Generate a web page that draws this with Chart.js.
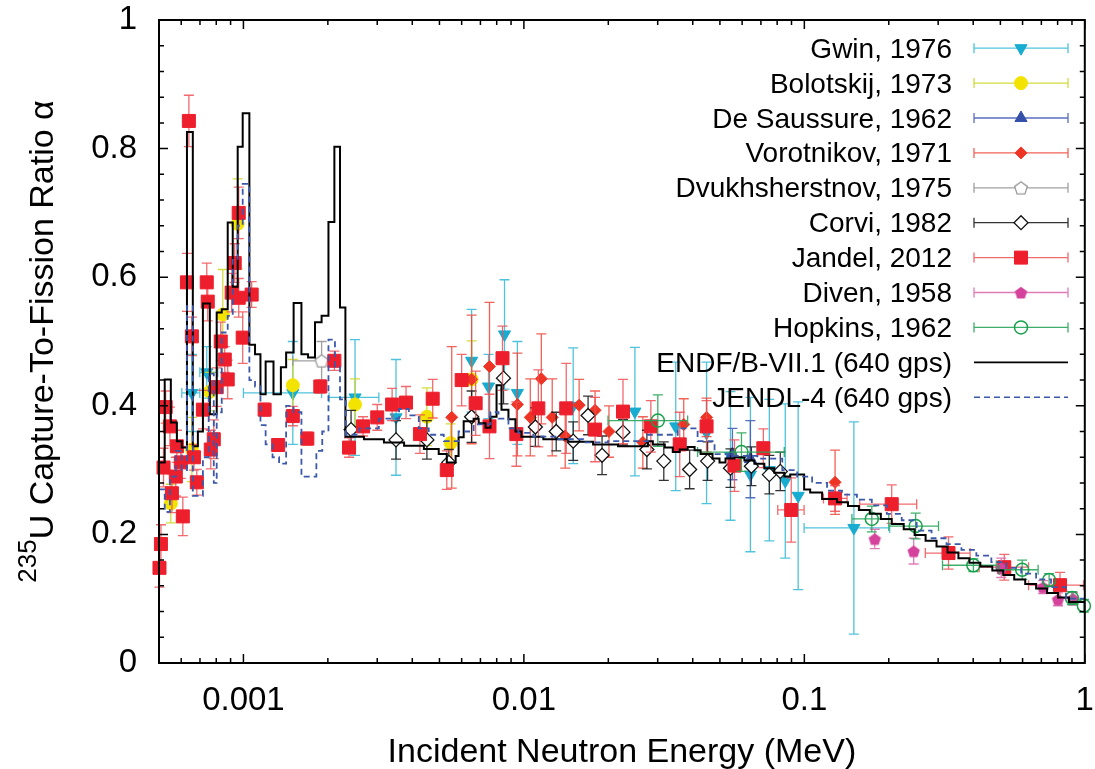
<!DOCTYPE html>
<html>
<head>
<meta charset="utf-8">
<script src="https://cdn.jsdelivr.net/npm/chart.js@4.4.1/dist/chart.umd.min.js"></script>
<style>
  html, body { margin: 0; padding: 0; background: #fff; }
  #wrap { width: 1095px; height: 769px; }
</style>
</head>
<body>
<div id="wrap"><canvas id="c" width="1095" height="769"></canvas></div>
<script>
const FONT = '"Liberation Sans", Arial, Helvetica, sans-serif';

// axes
const xTickVals = [0.001, 0.01, 0.1, 1];
const xTickLabels = ["0.001", "0.01", "0.1", "1"];
const yTickVals = [0, 0.2, 0.4, 0.6, 0.8, 1];
const yTickLabels = ["0", "0.2", "0.4", "0.6", "0.8", "1"];

// Gwin, 1976
const gwinE = [0.000655, 0.00074, 0.0015, 0.0025, 0.0035, 0.00651, 0.00748, 0.00853, 0.00948, 0.01499, 0.02488, 0.03479, 0.04481, 0.05453, 0.06422, 0.07502, 0.08551, 0.09506, 0.1502];
const gwinA = [0.42, 0.452, 0.42, 0.413, 0.382, 0.47, 0.43, 0.511, 0.42, 0.40, 0.391, 0.368, 0.358, 0.322, 0.293, 0.30, 0.283, 0.26, 0.21];
const gwinErr = [0.06, 0.04, 0.08, 0.09, 0.09, 0.08, 0.05, 0.085, 0.08, 0.09, 0.1, 0.1, 0.11, 0.1, 0.12, 0.11, 0.12, 0.146, 0.165];
const gwinELo = [0.000603, 0.000699, 0.001, 0.00202, null, null, null, null, null, null, null, null, null, null, null, null, null, null, 0.0998];
const gwinEHi = [0.000699, 0.00081, 0.0019, 0.00304, null, null, null, null, null, null, null, null, null, null, null, null, null, null, 0.2016];

// Bolotskij, 1973
const bolE = [0.000551, 0.000655, 0.000759, 0.000844, 0.000954, 0.0015, 0.0025, 0.00451, 0.00548, 0.00651];
const bolA = [0.248, 0.332, 0.422, 0.542, 0.683, 0.432, 0.402, 0.383, 0.342, 0.441];
const bolErr = [0.03, 0.05, 0.03, 0.07, 0.07, 0.04, 0.04, 0.045, 0.03, 0.06];

// De Saussure, 1962
const desE = [0.05541, 0.06422];
const desA = [0.325, 0.317];
const desErr = [0.04, 0.06];

// Vorotnikov, 1971
const vorE = [0.00553, 0.00651, 0.00754, 0.00948, 0.01054, 0.01154, 0.01262, 0.01404, 0.01574, 0.01794, 0.02011, 0.02656, 0.03715, 0.04481, 0.1287];
const vorA = [0.382, 0.441, 0.461, 0.402, 0.382, 0.442, 0.382, 0.353, 0.401, 0.393, 0.36, 0.343, 0.371, 0.382, 0.281];
const vorErr = [0.11, 0.1, 0.1, 0.08, 0.06, 0.07, 0.06, 0.05, 0.04, 0.03, 0.04, 0.04, 0.04, 0.03, 0.05];

// Dvukhsherstnov, 1975
const dvuE = [0.0019];
const dvuA = [0.47];
const dvuErr = [0.03];
const dvuELo = [0.0015];
const dvuEHi = [0.00214];

// Corvi, 1982
const corE = [0.00242, 0.0035, 0.00451, 0.0054, 0.00651, 0.00846, 0.01099, 0.01304, 0.01499, 0.01694, 0.019, 0.02256, 0.02745, 0.03154, 0.03899, 0.04519, 0.05453, 0.06475, 0.07502, 0.08208];
const corA = [0.363, 0.347, 0.347, 0.312, 0.383, 0.443, 0.367, 0.36, 0.345, 0.385, 0.323, 0.359, 0.332, 0.314, 0.301, 0.314, 0.303, 0.306, 0.293, 0.298];
const corErr = [0.03, 0.03, 0.03, 0.02, 0.04, 0.04, 0.03, 0.03, 0.03, 0.03, 0.03, 0.02, 0.03, 0.03, 0.03, 0.03, 0.03, 0.03, 0.03, 0.03];

// Jandel, 2012
const janE = [0.000502, 0.000508, 0.000519, 0.000528, 0.000547, 0.000556, 0.000574, 0.000579, 0.000598, 0.000608,
  0.000629, 0.000639, 0.000655, 0.000666, 0.000682, 0.000717, 0.00074, 0.000746, 0.000765, 0.000784,
  0.000803, 0.00083, 0.000858, 0.000879, 0.000908, 0.000931, 0.000962, 0.000962, 0.000994, 0.00107,
  0.00119, 0.00133, 0.0015, 0.00169, 0.00188, 0.00211, 0.00238, 0.00267, 0.003, 0.00339,
  0.0038, 0.00426, 0.00473, 0.00531, 0.006, 0.00673, 0.00754, 0.00839, 0.0094, 0.01126,
  0.01416, 0.01794, 0.02256, 0.02836, 0.03595, 0.04481, 0.05634, 0.07142, 0.08979, 0.1287,
  0.2049, 0.3266, 0.5162, 0.816];
const janA = [0.148, 0.185, 0.304, 0.398, 0.368, 0.264, 0.29, 0.337, 0.312, 0.228,
  0.592, 0.843, 0.508, 0.32, 0.281, 0.394, 0.592, 0.562, 0.332, 0.348,
  0.429, 0.5, 0.472, 0.441, 0.576, 0.622, 0.70, 0.568, 0.506, 0.573,
  0.394, 0.339, 0.384, 0.349, 0.43, 0.47, 0.335, 0.368, 0.382, 0.402,
  0.405, 0.356, 0.411, 0.30, 0.44, 0.404, 0.368, 0.474, 0.356, 0.396,
  0.396, 0.363, 0.391, 0.368, 0.34, 0.368, 0.307, 0.334, 0.238, 0.256,
  0.247, 0.171, 0.149, 0.121];
const janErr = [0.03, 0.03, 0.03, 0.025, 0.03, 0.03, 0.03, 0.025, 0.025, 0.03,
  0.045, 0.04, 0.03, 0.02, 0.02, 0.03, 0.03, 0.03, 0.03, 0.03,
  0.03, 0.03, 0.02, 0.03, 0.03, 0.03, 0.04, 0.03, 0.04, 0.02,
  0.01, 0.01, 0.015, 0.01, 0.01, 0.015, 0.015, 0.015, 0.02, 0.025,
  0.025, 0.03, 0.03, 0.03, 0.04, 0.05, 0.05, 0.05, 0.05, 0.06,
  0.07, 0.05, 0.05, 0.04, 0.05, 0.04, 0.04, 0.03, 0.05, 0.02,
  0.03, 0.025, 0.02, 0.02];
const janELo = Array(58).fill(null).concat([0.0804, 0.117, 0.1576, 0.27, 0.42, 0.63]);
const janEHi = Array(58).fill(null).concat([0.0998, 0.142, 0.2515, 0.39, 0.63, 0.99]);

// Diven, 1958
const divE = [0.1783, 0.2454, 0.5037, 0.7102, 0.8028, 0.9076];
const divA = [0.193, 0.174, 0.148, 0.118, 0.099, 0.10];
const divErr = [0.015, 0.02, 0.015, 0.01, 0.01, 0.01];

// Hopkins, 1962
const hopE = [0.03003, 0.05968, 0.174, 0.2494, 0.4006, 0.5981, 0.746, 0.9001, 0.9927];
const hopA = [0.377, 0.328, 0.224, 0.213, 0.152, 0.145, 0.129, 0.101, 0.089];
const hopErr = [0.04, 0.03, 0.02, 0.02, 0.01, 0.015, 0.01, 0.01, 0.01];
const hopELo = [0.01995, 0.04163, 0.1478, 0.2, 0.3109, 0.4955, null, null, null];
const hopEHi = [0.03837, 0.08481, 0.2, 0.3009, 0.4836, 0.6817, null, null, null];

// ENDF/B-VII.1, group edges (MeV) and group values
const endfEdges = [0.0005, 0.000524, 0.000551, 0.000579, 0.000603, 0.000629, 0.00066, 0.000688, 0.000717, 0.000759,
  0.000803, 0.000837, 0.000879, 0.000916, 0.000954, 0.000994, 0.00105, 0.0011, 0.00115, 0.0012,
  0.00128, 0.00136, 0.00142, 0.00151, 0.00161, 0.0017, 0.0018, 0.0019, 0.00201, 0.00211,
  0.00221, 0.00231, 0.00269, 0.00317, 0.00374, 0.0044, 0.00497, 0.00531, 0.00571, 0.00585,
  0.0061, 0.00662, 0.0069, 0.0073, 0.0076, 0.00799, 0.00832, 0.00881, 0.00933, 0.0098,
  0.01173, 0.01439, 0.01765, 0.02166, 0.02767, 0.02883, 0.0318, 0.03395, 0.03595, 0.03837,
  0.04062, 0.04267, 0.04706, 0.04984, 0.05236, 0.05634, 0.06114, 0.06634, 0.07201, 0.07815,
  0.08481, 0.08905, 0.0943, 0.09984, 0.1049, 0.1157, 0.1308, 0.1431, 0.1565, 0.1712,
  0.1874, 0.2049, 0.2261, 0.2473, 0.2706, 0.296, 0.324, 0.3543, 0.3878, 0.4242,
  0.468, 0.512, 0.5602, 0.6131, 0.6706, 0.7336, 0.8028, 0.8783, 1.0];
const endfVals = [0.312, 0.441, 0.374, 0.345, 0.335, 0.826, 0.337, 0.36, 0.559, 0.387,
  0.545, 0.55, 0.685, 0.585, 0.803, 0.855, 0.495, 0.48, 0.418, 0.469,
  0.418, 0.46, 0.483, 0.56, 0.48, 0.475, 0.53, 0.54, 0.686, 0.803,
  0.553, 0.352, 0.348, 0.343, 0.338, 0.333, 0.325, 0.312, 0.322, 0.351,
  0.376, 0.38, 0.373, 0.366, 0.383, 0.432, 0.394, 0.379, 0.36, 0.352,
  0.348, 0.344, 0.34, 0.337, 0.345, 0.34, 0.335, 0.328, 0.332, 0.336,
  0.331, 0.325, 0.318, 0.312, 0.318, 0.32, 0.315, 0.31, 0.303, 0.296,
  0.29, 0.293, 0.293, 0.27, 0.265, 0.255, 0.25, 0.244, 0.238, 0.232,
  0.224, 0.216, 0.208, 0.199, 0.19, 0.181, 0.172, 0.163, 0.156, 0.15,
  0.144, 0.137, 0.13, 0.123, 0.116, 0.109, 0.102, 0.095];

// JENDL-4, group edges (MeV) and group values
const jendlEdges = [0.0005, 0.000524, 0.000547, 0.000574, 0.000603, 0.000629, 0.00066, 0.000717, 0.000752, 0.000784,
  0.000803, 0.000837, 0.000879, 0.000916, 0.000954, 0.000994, 0.00105, 0.0011, 0.00115, 0.0012,
  0.00127, 0.00134, 0.00142, 0.00151, 0.00161, 0.00182, 0.00191, 0.00201, 0.00212, 0.00221,
  0.00232, 0.00259, 0.00304, 0.00359, 0.00389, 0.00422, 0.00458, 0.00518, 0.00585, 0.00662,
  0.0076, 0.00812, 0.00881, 0.00956, 0.0108, 0.01326, 0.01627, 0.01995, 0.02767, 0.03537,
  0.04163, 0.04784, 0.05541, 0.068, 0.08343, 0.0943, 0.1066, 0.1205, 0.1362, 0.154,
  0.174, 0.1968, 0.2225, 0.2515, 0.2842, 0.3213, 0.3632, 0.4105, 0.4642, 0.5247,
  0.5932, 0.6706, 0.758, 0.8568, 1.0];
const jendlVals = [0.27, 0.235, 0.29, 0.33, 0.30, 0.555, 0.26, 0.32, 0.45, 0.28,
  0.39, 0.514, 0.54, 0.627, 0.68, 0.745, 0.44, 0.43, 0.37, 0.34,
  0.32, 0.31, 0.40, 0.39, 0.29, 0.33, 0.36, 0.503, 0.46, 0.41,
  0.355, 0.365, 0.38, 0.395, 0.385, 0.365, 0.355, 0.345, 0.36, 0.371,
  0.39, 0.38, 0.365, 0.358, 0.352, 0.348, 0.343, 0.345, 0.355, 0.365,
  0.345, 0.325, 0.322, 0.318, 0.30, 0.29, 0.28, 0.268, 0.262, 0.254,
  0.245, 0.232, 0.222, 0.206, 0.194, 0.185, 0.176, 0.167, 0.157, 0.148,
  0.139, 0.13, 0.118, 0.10];

function points(E, A, dA, lo, hi) {
  return E.map((e, i) => ({
    x: e,
    y: A[i],
    yMin: A[i] - (dA ? dA[i] : 0),
    yMax: A[i] + (dA ? dA[i] : 0),
    xMin: lo ? lo[i] : null,
    xMax: hi ? hi[i] : null,
  }));
}

function histogram(edges, vals) {
  const out = [];
  vals.forEach((v, i) => {
    out.push({ x: edges[i], y: v });
    out.push({ x: edges[i + 1], y: v });
  });
  return out;
}

function pentagon(size, fill, stroke, lw) {
  const c = document.createElement("canvas");
  c.width = size;
  c.height = size;
  const g = c.getContext("2d");
  const r = size / 2 - lw;
  g.beginPath();
  for (let k = 0; k < 5; k++) {
    const a = -Math.PI / 2 + (k * 2 * Math.PI) / 5;
    const px = size / 2 + r * Math.cos(a);
    const py = size / 2 + r * Math.sin(a) + r * 0.1;
    if (k === 0) g.moveTo(px, py); else g.lineTo(px, py);
  }
  g.closePath();
  if (fill) { g.fillStyle = fill; g.fill(); }
  if (stroke) { g.strokeStyle = stroke; g.lineWidth = lw; g.stroke(); }
  return c;
}

function markerSet(label, data, color, errColor, style, radius, opts) {
  return Object.assign({
    label,
    data,
    showLine: false,
    pointStyle: style,
    pointRadius: radius,
    pointBackgroundColor: color,
    pointBorderColor: color,
    pointBorderWidth: 1,
    errColor,
    clip: false,
  }, opts || {});
}

const datasets = [
  markerSet("Gwin, 1976", points(gwinE, gwinA, gwinErr, gwinELo, gwinEHi), "#17acd0", "rgba(60,188,215,0.9)", "triangle", 7, { pointRotation: 180 }),
  markerSet("Bolotskij, 1973", points(bolE, bolA, bolErr), "#f2e400", "rgba(205,215,40,0.9)", "circle", 6.5),
  markerSet("De Saussure, 1962", points(desE, desA, desErr), "#3550a8", "rgba(70,95,185,0.9)", "triangle", 7),
  markerSet("Vorotnikov, 1971", points(vorE, vorA, vorErr), "#ee3424", "rgba(238,70,60,0.85)", "rectRot", 6),
  markerSet("Dvukhsherstnov, 1975", points(dvuE, dvuA, dvuErr, dvuELo, dvuEHi), "#999", "rgba(150,150,150,0.9)", pentagon(16, "#fff", "#999", 1.3), 7),
  markerSet("Corvi, 1982", points(corE, corA, corErr), "#111", "rgba(30,30,30,0.9)", "rectRot", 7, { pointBackgroundColor: "#fff", pointBorderWidth: 1.3 }),
  markerSet("Jandel, 2012", points(janE, janA, janErr, janELo, janEHi), "#ee1f2d", "rgba(238,80,85,0.85)", "rect", 9.2),
  markerSet("Diven, 1958", points(divE, divA, divErr), "#d4429c", "rgba(220,110,175,0.9)", pentagon(15, "#d4429c", null, 1), 7),
  markerSet("Hopkins, 1962", points(hopE, hopA, hopErr, hopELo, hopEHi), "#17a04a", "rgba(40,165,90,0.9)", "circle", 6.5, { pointBackgroundColor: "rgba(0,0,0,0)", pointBorderWidth: 1.5 }),
  {
    label: "ENDF/B-VII.1 (640 gps)",
    data: histogram(endfEdges, endfVals),
    showLine: true,
    pointRadius: 0,
    borderColor: "#000",
    borderWidth: 2,
    isLine: true,
  },
  {
    label: "JENDL-4 (640 gps)",
    data: histogram(jendlEdges, jendlVals),
    showLine: true,
    pointRadius: 0,
    borderColor: "#3c58ab",
    borderWidth: 1.8,
    borderDash: [6, 4],
    isLine: true,
  },
];
// gnuplot order: later series drawn on top
datasets.forEach((d, i) => { d.order = -i; });

const errorBars = {
  id: "errorBars",
  beforeDatasetDraw(chart, args) {
    const ds = chart.data.datasets[args.index];
    if (!ds.errColor) return;
    const xs = chart.scales.x;
    const ys = chart.scales.y;
    const ctx = chart.ctx;
    const cap = 5;
    ctx.save();
    ctx.strokeStyle = ds.errColor;
    ctx.lineWidth = 1.3;
    ctx.beginPath();
    ds.data.forEach((p) => {
      const px = xs.getPixelForValue(p.x);
      const py = ys.getPixelForValue(p.y);
      if (p.yMax > p.yMin) {
        const t = ys.getPixelForValue(p.yMax);
        const b = ys.getPixelForValue(p.yMin);
        ctx.moveTo(px, t); ctx.lineTo(px, b);
        ctx.moveTo(px - cap, t); ctx.lineTo(px + cap, t);
        ctx.moveTo(px - cap, b); ctx.lineTo(px + cap, b);
      }
      if (p.xMin != null && p.xMax != null) {
        const l = xs.getPixelForValue(p.xMin);
        const r = xs.getPixelForValue(p.xMax);
        ctx.moveTo(l, py); ctx.lineTo(r, py);
        ctx.moveTo(l, py - cap); ctx.lineTo(l, py + cap);
        ctx.moveTo(r, py - cap); ctx.lineTo(r, py + cap);
      }
    });
    ctx.stroke();
    ctx.restore();
  },
};

const frameAndLegend = {
  id: "frameAndLegend",
  afterDraw(chart) {
    const ctx = chart.ctx;
    const a = chart.chartArea;
    const xs = chart.scales.x;
    const ys = chart.scales.y;

    // border
    ctx.save();
    ctx.strokeStyle = "#000";
    ctx.lineWidth = 2;
    ctx.strokeRect(a.left, a.top, a.right - a.left, a.bottom - a.top);

    // inward ticks
    ctx.lineWidth = 1.5;
    ctx.beginPath();
    for (let d = -4; d <= 0; d++) {
      for (let m = 1; m <= 9; m++) {
        const v = m * Math.pow(10, d);
        if (v < xs.min * 0.999 || v > xs.max * 1.001) continue;
        const px = xs.getPixelForValue(v);
        const len = m === 1 ? 9 : 5;
        ctx.moveTo(px, a.bottom); ctx.lineTo(px, a.bottom - len);
        ctx.moveTo(px, a.top); ctx.lineTo(px, a.top + len);
      }
    }
    for (let k = 0; k <= 25; k++) {
      const v = k * 0.04;
      const py = ys.getPixelForValue(v);
      const len = k % 5 === 0 ? 9 : 5;
      ctx.moveTo(a.left, py); ctx.lineTo(a.left + len, py);
      ctx.moveTo(a.right, py); ctx.lineTo(a.right - len, py);
    }
    ctx.stroke();

    // axis titles
    ctx.fillStyle = "#000";
    ctx.font = "34px " + FONT;
    ctx.textAlign = "center";
    ctx.textBaseline = "alphabetic";
    ctx.fillText("Incident Neutron Energy (MeV)", (a.left + a.right) / 2, 762);

    const mainText = "U Capture-To-Fission Ratio \u03b1";
    ctx.save();
    ctx.translate(53, (a.top + a.bottom) / 2);
    ctx.rotate(-Math.PI / 2);
    ctx.textAlign = "left";
    ctx.font = "26px " + FONT;
    const wSup = ctx.measureText("235").width;
    ctx.font = "34px " + FONT;
    const wMain = ctx.measureText(mainText).width;
    const start = -(wSup + wMain) / 2;
    ctx.font = "26px " + FONT;
    ctx.fillText("235", start, -17);
    ctx.font = "34px " + FONT;
    ctx.fillText(mainText, start + wSup, 0);
    ctx.restore();

    // legend
    const drawPoint = Chart.helpers && Chart.helpers.drawPoint;
    chart.data.datasets.forEach((ds, i) => {
      const base = 57.7 + 34.9 * i;
      const cy = base - 9.5;
      ctx.font = "28px " + FONT;
      ctx.textAlign = "right";
      ctx.fillStyle = "#000";
      ctx.fillText(ds.label, 952, base);
      const x0 = 974, x1 = 1068, xm = 1021;
      ctx.beginPath();
      if (ds.isLine) {
        ctx.strokeStyle = ds.borderColor;
        ctx.lineWidth = ds.borderWidth - 0.3;
        ctx.setLineDash(ds.borderDash || []);
        ctx.moveTo(x0, cy); ctx.lineTo(x1, cy);
        ctx.stroke();
        ctx.setLineDash([]);
        return;
      }
      ctx.strokeStyle = ds.errColor;
      ctx.lineWidth = 1.3;
      ctx.moveTo(x0, cy); ctx.lineTo(x1, cy);
      ctx.moveTo(x0, cy - 5); ctx.lineTo(x0, cy + 5);
      ctx.moveTo(x1, cy - 5); ctx.lineTo(x1, cy + 5);
      ctx.stroke();
      if (drawPoint) {
        ctx.fillStyle = ds.pointBackgroundColor;
        ctx.strokeStyle = ds.pointBorderColor;
        ctx.lineWidth = ds.pointBorderWidth;
        drawPoint(ctx, {
          pointStyle: ds.pointStyle,
          rotation: ds.pointRotation || 0,
          radius: ds.pointRadius,
          borderWidth: ds.pointBorderWidth,
        }, xm, cy);
      }
    });
    ctx.restore();
  },
};

new Chart(document.getElementById("c"), {
  type: "scatter",
  data: { datasets },
  plugins: [errorBars, frameAndLegend],
  options: {
    responsive: false,
    animation: false,
    events: [],
    layout: { padding: { left: 0, right: 6, top: 20, bottom: 0 } },
    plugins: {
      legend: { display: false },
      tooltip: { enabled: false },
    },
    scales: {
      x: {
        type: "logarithmic",
        min: 0.0005,
        max: 1,
        grid: { display: false, drawTicks: false },
        border: { display: false },
        afterBuildTicks: (s) => { s.ticks = xTickVals.map((v) => ({ value: v })); },
        afterFit: (s) => { s.height = 106; s.paddingLeft = 0; s.paddingRight = 0; },
        ticks: {
          autoSkip: false,
          maxRotation: 0,
          padding: 18,
          color: "#000",
          font: { family: FONT, size: 33 },
          callback: (v) => xTickLabels[xTickVals.indexOf(v)] ?? "",
        },
      },
      y: {
        type: "linear",
        min: 0,
        max: 1,
        grid: { display: false, drawTicks: false },
        border: { display: false },
        afterBuildTicks: (s) => { s.ticks = yTickVals.map((v) => ({ value: v })); },
        afterFit: (s) => { s.width = 159; s.paddingTop = 0; s.paddingBottom = 0; },
        ticks: {
          padding: 22,
          color: "#000",
          font: { family: FONT, size: 33 },
          callback: (v) => yTickLabels[yTickVals.indexOf(v)] ?? "",
        },
      },
    },
  },
});
</script>
</body>
</html>
